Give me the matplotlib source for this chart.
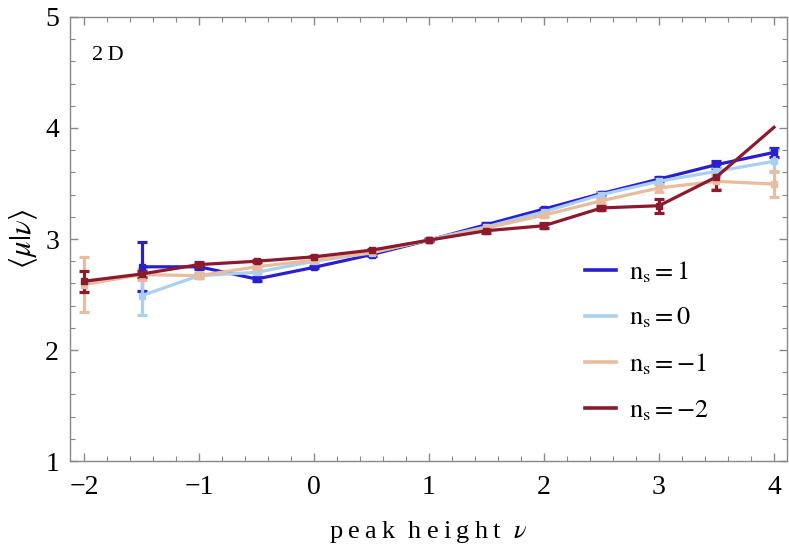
# 2D peak statistics: <mu|nu> vs peak height for several spectral indices
import numpy as np
import matplotlib
matplotlib.use("Agg")
import matplotlib.pyplot as plt
from matplotlib.ticker import MultipleLocator
from matplotlib.lines import Line2D

plt.rcParams['font.family'] = ['Liberation Serif', 'DejaVu Serif']
plt.rcParams['mathtext.fontset'] = 'stix'

# --- Data ---
nu_full = [-2.0, -1.5, -1.0, -0.5, 0.0, 0.5, 1.0, 1.5, 2.0, 2.5, 3.0, 3.5, 4.0]
nu_part = [-1.5, -1.0, -0.5, 0.0, 0.5, 1.0, 1.5, 2.0, 2.5, 3.0, 3.5, 4.0]

mu_n1 = [2.75, 2.75, 2.64, 2.745, 2.86, 2.99, 3.13, 3.27, 3.41, 3.54, 3.67, 3.78]
err_n1 = [0.22, 0.02, 0.02, 0.01, 0.01, 0.01, 0.01, 0.01, 0.01, 0.02, 0.03, 0.04]

mu_n0 = [2.49, 2.67, 2.70, 2.80, 2.875, 2.995, 3.11, 3.245, 3.40, 3.52, 3.61, 3.70]
err_n0 = [0.17, 0.02, 0.01, 0.01, 0.01, 0.01, 0.01, 0.01, 0.02, 0.02, 0.04, 0.10]

mu_nm1 = [2.59, 2.68, 2.67, 2.75, 2.81, 2.88, 2.99, 3.10, 3.215, 3.345, 3.46, 3.52, 3.495]
err_nm1 = [0.245, 0.05, 0.02, 0.02, 0.01, 0.01, 0.01, 0.01, 0.02, 0.02, 0.04, 0.07, 0.12]

# last point (nu=4) has no error estimate / marker
mu_nm2 = [2.62, 2.685, 2.77, 2.80, 2.84, 2.90, 2.99, 3.075, 3.12, 3.28, 3.30, 3.56, 4.006]
err_nm2 = [0.095, 0.03, 0.02, 0.01, 0.01, 0.01, 0.01, 0.02, 0.02, 0.02, 0.065, 0.12, np.nan]

series = [
    (nu_part, mu_n1, err_n1, "#2a1fd0", r"$\mathrm{n}_{\mathrm{s}}=1$"),
    (nu_part, mu_n0, err_n0, "#a9d0f0", r"$\mathrm{n}_{\mathrm{s}}=0$"),
    (nu_full, mu_nm1, err_nm1, "#e8bc9c", r"$\mathrm{n}_{\mathrm{s}}=-1$"),
    (nu_full, mu_nm2, err_nm2, "#8b1a2e", r"$\mathrm{n}_{\mathrm{s}}=-2$"),
]

fig = plt.figure(figsize=(7.89, 5.47), dpi=100)
ax = fig.add_axes([0.089, 0.157, 0.908, 0.812])

handles = []
for x, y, e, col, lab in series:
    marks = [i for i in range(len(x)) if not np.isnan(e[i])]
    ax.errorbar(x, y, yerr=e, color=col, lw=2.3, elinewidth=2.3,
                capsize=3.5, capthick=2.3, marker='s', ms=4.5, markevery=marks)
    handles.append(Line2D([], [], color=col, lw=2.6, label=lab))

ax.set_xlim(-2.12, 4.11)
ax.set_ylim(1, 5)
ax.xaxis.set_major_locator(MultipleLocator(1))
ax.xaxis.set_minor_locator(MultipleLocator(0.2))
ax.yaxis.set_major_locator(MultipleLocator(1))
ax.yaxis.set_minor_locator(MultipleLocator(0.2))

for s in ax.spines.values():
    s.set_color("#888888")
    s.set_linewidth(1.0)
ax.tick_params(which='both', direction='in', top=True, right=True,
               color="#888888", labelsize=20)
ax.tick_params(which='major', length=6, width=1.0)
ax.tick_params(which='minor', length=3.5, width=0.8)
ax.set_xticks([-2, -1, 0, 1, 2, 3, 4])
ax.set_xticklabels(["\u22122", "\u22121", "0", "1", "2", "3", "4"])
ax.tick_params(axis='x', pad=10)
ax.tick_params(axis='y', pad=8)

ts = "\u2009"
ax.set_xlabel(ts.join("peak") + "  " + ts.join("height") + "  " + r"$\nu$",
              fontsize=19, labelpad=14)
ax.set_ylabel(r"$\langle\mu|\nu\rangle$", fontsize=22, labelpad=4)

ax.text(0.031, 0.903, "2" + ts + "D", transform=ax.transAxes, fontsize=16,
        va='baseline')

ax.legend(handles=handles, loc='upper left', bbox_to_anchor=(0.718, 0.455),
          borderaxespad=0, borderpad=0, frameon=False, fontsize=19,
          handlelength=1.2, handletextpad=0.5, labelspacing=0.8)

fig.savefig("out.png", dpi=100)
